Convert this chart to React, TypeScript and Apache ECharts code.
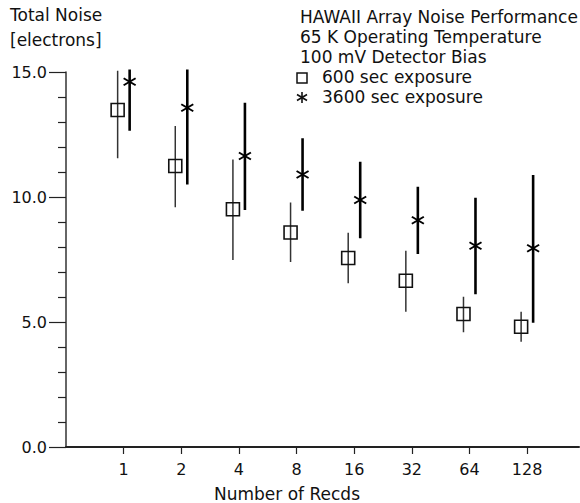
import React, { useEffect, useRef } from "react";
import * as echarts from "echarts";

const readLabels = ["1", "2", "4", "8", "16", "32", "64", "128"];
const readIndex = [1, 2, 3, 4, 5, 6, 7, 8];

const noise600 = [13.48, 11.24, 9.51, 8.58, 7.56, 6.65, 5.32, 4.81];
const low600 = [11.55, 9.59, 7.48, 7.4, 6.55, 5.41, 4.59, 4.21];
const high600 = [15.05, 12.84, 11.5, 9.78, 8.57, 7.85, 6.01, 5.41];

const noise3600 = [14.61, 13.57, 11.64, 10.9, 9.88, 9.07, 8.05, 7.95];
const low3600 = [12.65, 10.5, 9.48, 9.45, 8.35, 7.72, 6.11, 4.97];
const high3600 = [15.1, 15.1, 13.77, 12.35, 11.41, 10.41, 9.97, 10.88];

const yTicks = [0, 5, 10, 15];

const legendLines = [
  "HAWAII Array Noise Performance",
  "65 K Operating Temperature",
  "100 mV Detector Bias",
];
const seriesNames = ["600 sec exposure", "3600 sec exposure"];

const FONT = "DejaVu Sans";
const INK = "#111";

function buildData(vals: number[], lows: number[], highs: number[]) {
  return readIndex.map((x, i) => [x, vals[i], lows[i], highs[i]]);
}

function makeRender(kind: "square" | "star", dx: number) {
  return (params: any, api: any) => {
    const x = api.value(0);
    const c = api.coord([x, api.value(1)]);
    const lo = api.coord([x, api.value(2)]);
    const hi = api.coord([x, api.value(3)]);
    const px = c[0] + dx;
    const children: any[] = [
      {
        type: "line",
        shape: { x1: px, y1: lo[1], x2: px, y2: hi[1] },
        style: {
          stroke: kind === "square" ? "#333" : "#000",
          lineWidth: kind === "square" ? 1.5 : 2.6,
        },
      },
    ];
    if (kind === "square") {
      children.push({
        type: "rect",
        shape: { x: px - 6.5, y: c[1] - 6.5, width: 13, height: 13 },
        style: { fill: "none", stroke: INK, lineWidth: 1.6 },
      });
    } else {
      children.push(
        {
          type: "line",
          shape: { x1: px - 6, y1: c[1] - 3.5, x2: px + 6, y2: c[1] + 3.5 },
          style: { stroke: "#000", lineWidth: 2 },
        },
        {
          type: "line",
          shape: { x1: px - 6, y1: c[1] + 3.5, x2: px + 6, y2: c[1] - 3.5 },
          style: { stroke: "#000", lineWidth: 2 },
        }
      );
    }
    return { type: "group", children };
  };
}

export default function App() {
  const ref = useRef<HTMLDivElement>(null);
  useEffect(() => {
    if (!ref.current) return;
    const chart = echarts.init(ref.current, undefined, { renderer: "svg" });
    const textStyle = (text: string, x: number, y: number, align = "left", size = 17) => ({
      type: "text",
      style: {
        text,
        x,
        y,
        fill: INK,
        fontFamily: FONT,
        fontSize: size,
        align,
        verticalAlign: "middle",
      },
    });
    const graphics: any[] = [
      textStyle("Total Noise", 10, 15),
      textStyle("[electrons]", 10, 40),
      textStyle("Number of Recds", 287, 494, "center"),
      ...legendLines.map((t, i) => textStyle(t, 300, 17 + i * 20)),
      textStyle(seriesNames[0], 322, 77),
      textStyle(seriesNames[1], 322, 97),
      {
        type: "rect",
        shape: { x: 297, y: 73, width: 10, height: 10 },
        style: { fill: "none", stroke: INK, lineWidth: 1.5 },
      },
      {
        type: "line",
        shape: { x1: 302, y1: 92, x2: 302, y2: 103 },
        style: { stroke: INK, lineWidth: 1.6 },
      },
      {
        type: "line",
        shape: { x1: 297, y1: 94.5, x2: 307, y2: 100.5 },
        style: { stroke: INK, lineWidth: 1.6 },
      },
      {
        type: "line",
        shape: { x1: 297, y1: 100.5, x2: 307, y2: 94.5 },
        style: { stroke: INK, lineWidth: 1.6 },
      },
    ];
    chart.setOption({
      animation: false,
      backgroundColor: "#fff",
      grid: { left: 66, right: 1, top: 72, bottom: 56 },
      xAxis: {
        type: "value",
        min: 0,
        max: 8.9,
        interval: 1,
        splitLine: { show: false },
        axisLine: { show: true, lineStyle: { color: "#222", width: 2 } },
        axisTick: {
          show: true,
          length: 7,
          customValues: readIndex,
          lineStyle: { color: "#222", width: 1.2 },
        },
        axisLabel: {
          customValues: readIndex,
          formatter: (v: number) => readLabels[Math.round(v) - 1] ?? "",
          color: INK,
          fontFamily: FONT,
          fontSize: 16,
          margin: 14,
        },
      },
      yAxis: {
        type: "value",
        min: 0,
        max: 15,
        interval: 5,
        splitLine: { show: false },
        axisLine: { show: true, lineStyle: { color: "#333", width: 1.5 } },
        axisTick: {
          show: true,
          length: 17,
          customValues: yTicks,
          lineStyle: { color: "#222", width: 1.2 },
        },
        minorTick: {
          show: true,
          splitNumber: 5,
          length: 8,
          lineStyle: { color: "#222", width: 1.2 },
        },
        axisLabel: {
          formatter: (v: number) => v.toFixed(1),
          color: INK,
          fontFamily: FONT,
          fontSize: 16,
          margin: 19,
        },
      },
      graphic: graphics,
      series: [
        {
          name: seriesNames[0],
          type: "custom",
          renderItem: makeRender("square", -6),
          data: buildData(noise600, low600, high600),
          clip: false,
        },
        {
          name: seriesNames[1],
          type: "custom",
          renderItem: makeRender("star", 6),
          data: buildData(noise3600, low3600, high3600),
          clip: false,
        },
      ],
    });
    return () => chart.dispose();
  }, []);
  return (
    <div
      ref={ref}
      style={{ position: "absolute", left: 0, top: 0, width: 580, height: 503 }}
    />
  );
}
